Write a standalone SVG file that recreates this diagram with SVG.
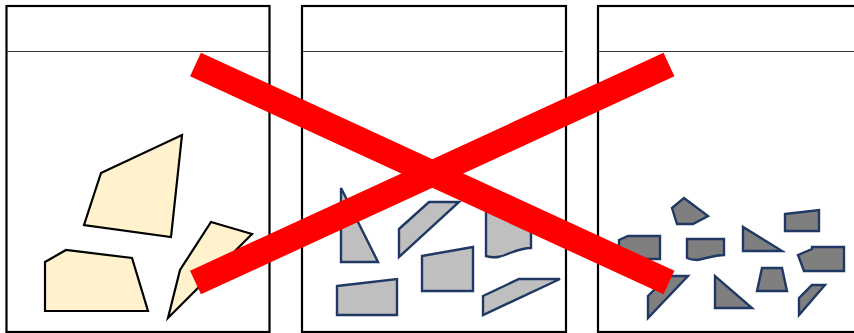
<svg xmlns="http://www.w3.org/2000/svg" width="854" height="333" viewBox="0 0 854 333">
<style>
.panel{fill:#fff;stroke:#000;stroke-width:2.2}
.hdr{stroke:#333;stroke-width:1.2;fill:none}
.cream{fill:#FFF2CC;stroke:#000;stroke-width:2.2;stroke-linejoin:miter}
.lgray{fill:#BFBFBF;stroke:#1F3864;stroke-width:2.4}
.dgray{fill:#7F7F7F;stroke:#1F3864;stroke-width:2.4}
.bar{stroke:#FF0000;stroke-width:26;fill:none}
</style>
<rect width="854" height="333" fill="#fff"/>
<g id="panel1">
<rect class="panel" x="6.5" y="6" width="263" height="326"/>
<line class="hdr" x1="7" y1="51.5" x2="268" y2="51.5"/>
<polygon class="cream" points="101,173 182,135 171,237 84,225"/>
<polygon class="cream" points="45,262 66,250 132,258 148,311 45,311"/>
<polygon class="cream" points="211,222 252,234 168,318 180,270"/>
</g>
<g id="panel2">
<rect class="panel" x="302" y="6" width="264" height="326"/>
<line class="hdr" x1="303" y1="51.5" x2="563" y2="51.5"/>
<polygon class="lgray" points="341,188 341,262 378,262"/>
<polygon class="lgray" points="399,229 429,202 459,202 399,257"/>
<polygon class="lgray" points="422,256 473,247 473,291 422,291"/>
<path class="lgray" d="M486,208 L531,208 L531,248 C524,248 518,250 510,253 C503,256 496,259 486,256 Z"/>
<polygon class="lgray" points="337,286 397,279 397,315 337,315"/>
<polygon class="lgray" points="483,296 519,279 560,279 483,315"/>
</g>
<g id="panel3">
<rect class="panel" x="598" y="6" width="266" height="326"/>
<line class="hdr" x1="599" y1="51.5" x2="854" y2="51.5"/>
<polygon class="dgray" points="672,208 684,198 708,216 693,224 677,224"/>
<polygon class="dgray" points="619,240 628,236 660,236 660,259 619,259"/>
<path class="dgray" d="M687,239 L724,239 L724,255 C716,255 707,258 697,260 C692,260 689,259 687,258 Z"/>
<polygon class="dgray" points="743,227 743,251 782,251"/>
<polygon class="dgray" points="785,214 819,210 819,231 785,231"/>
<polygon class="dgray" points="798,255 805,252 812,249 812,247 844,247 844,271 804,271"/>
<polygon class="dgray" points="648,296 668,276 688,276 648,318"/>
<polygon class="dgray" points="715,276 715,308 752,308"/>
<polygon class="dgray" points="762,268 782,268 787,291 757,291"/>
<polygon class="dgray" points="799,298 812,285 825,285 799,315"/>
</g>
<g id="cross">
<line class="bar" x1="195.5" y1="64.5" x2="669" y2="282.5"/>
<line class="bar" x1="195.5" y1="282.5" x2="669" y2="64.5"/>
</g>
</svg>
